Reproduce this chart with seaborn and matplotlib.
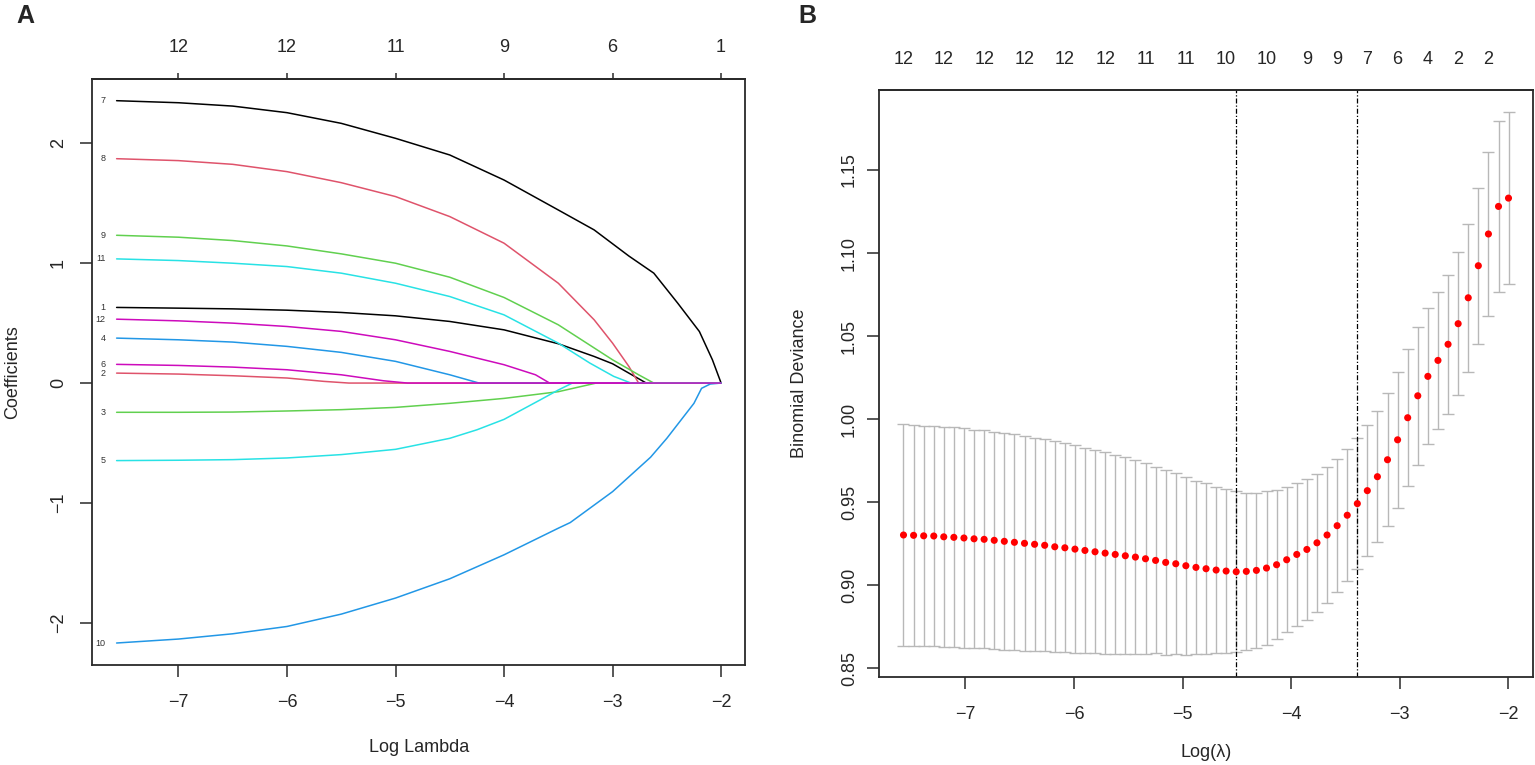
import numpy as np
import pandas as pd
import seaborn as sns
import matplotlib
matplotlib.use("Agg")
import matplotlib.pyplot as plt

# ---- painel A: caminhos dos coeficientes (Log Lambda -> coeficiente) ----
c1_x = [-7.57, -7.0, -6.5, -6.0, -5.5, -5.0, -4.5, -4.0, -3.5, -3.17, -3.0, -2.85, -2.69, -2.0]
c1_y = [0.631, 0.625, 0.619, 0.608, 0.589, 0.561, 0.514, 0.444, 0.328, 0.222, 0.161, 0.083, 0.0, 0.0]
c2_x = [-7.57, -7.0, -6.5, -6.0, -5.66, -5.43, -2.0]
c2_y = [0.083, 0.075, 0.061, 0.042, 0.014, 0.0, 0.0]
c3_x = [-7.57, -7.0, -6.5, -6.0, -5.5, -5.0, -4.5, -4.0, -3.5, -3.15, -2.0]
c3_y = [-0.244, -0.244, -0.242, -0.233, -0.222, -0.203, -0.169, -0.128, -0.072, 0.0, 0.0]
c4_x = [-7.57, -7.0, -6.5, -6.0, -5.5, -5.0, -4.5, -4.23, -2.0]
c4_y = [0.375, 0.361, 0.342, 0.306, 0.256, 0.181, 0.069, 0.0, 0.0]
c5_x = [-7.57, -7.0, -6.5, -6.0, -5.5, -5.0, -4.5, -4.25, -4.0, -3.67, -3.5, -3.37, -2.0]
c5_y = [-0.647, -0.644, -0.639, -0.625, -0.597, -0.553, -0.461, -0.39, -0.303, -0.142, -0.058, 0.0, 0.0]
c6_x = [-7.57, -7.0, -6.5, -6.0, -5.5, -5.11, -4.89, -2.0]
c6_y = [0.156, 0.147, 0.133, 0.111, 0.069, 0.019, 0.0, 0.0]
c7_x = [-7.57, -7.0, -6.5, -6.0, -5.5, -5.0, -4.5, -4.0, -3.5, -3.17, -2.85, -2.62,
        -2.4, -2.2, -2.08, -2.0]
c7_y = [2.356, 2.339, 2.311, 2.256, 2.167, 2.042, 1.903, 1.694, 1.444, 1.278, 1.06, 0.917,
        0.667, 0.43, 0.194, 0.0]
c8_x = [-7.57, -7.0, -6.5, -6.0, -5.5, -5.0, -4.5, -4.0, -3.5, -3.17, -3.0, -2.85, -2.76, -2.0]
c8_y = [1.872, 1.856, 1.825, 1.764, 1.672, 1.556, 1.389, 1.167, 0.833, 0.528, 0.333, 0.139, 0.0, 0.0]
c9_x = [-7.57, -7.0, -6.5, -6.0, -5.5, -5.0, -4.5, -4.0, -3.5, -3.0, -2.76, -2.62, -2.0]
c9_y = [1.233, 1.217, 1.189, 1.144, 1.078, 1.0, 0.883, 0.714, 0.486, 0.194, 0.069, 0.0, 0.0]
c10_x = [-7.57, -7.0, -6.5, -6.0, -5.5, -5.0, -4.5, -4.0, -3.5, -3.39, -3.0, -2.65, -2.5,
         -2.25, -2.18, -2.1, -2.0]
c10_y = [-2.169, -2.136, -2.092, -2.031, -1.928, -1.794, -1.633, -1.433, -1.211, -1.164, -0.906,
         -0.619, -0.461, -0.169, -0.044, -0.008, 0.0]
c11_x = [-7.57, -7.0, -6.5, -6.0, -5.5, -5.0, -4.5, -4.0, -3.5, -3.21, -2.99, -2.83, -2.0]
c11_y = [1.036, 1.022, 1.0, 0.972, 0.917, 0.833, 0.722, 0.569, 0.333, 0.167, 0.056, 0.0, 0.0]
c12_x = [-7.57, -7.0, -6.5, -6.0, -5.5, -5.0, -4.5, -4.0, -3.71, -3.58, -2.0]
c12_y = [0.533, 0.519, 0.5, 0.472, 0.431, 0.361, 0.264, 0.153, 0.069, 0.0, 0.0]

topo_A_pos = [-7, -6, -5, -4, -3, -2]
topo_A_lab = ["12", "12", "11", "9", "6", "1"]

# ---- painel B: validação cruzada ----
logl = [-7.571, -7.478, -7.385, -7.292, -7.200, -7.107, -7.014, -6.921, -6.828, -6.735,
        -6.642, -6.549, -6.456, -6.363, -6.270, -6.177, -6.084, -5.991, -5.899, -5.806,
        -5.713, -5.620, -5.527, -5.434, -5.341, -5.248, -5.155, -5.062, -4.969, -4.876,
        -4.783, -4.690, -4.598, -4.505, -4.412, -4.319, -4.226, -4.133, -4.040, -3.947,
        -3.854, -3.761, -3.668, -3.575, -3.482, -3.389, -3.297, -3.204, -3.111, -3.018,
        -2.925, -2.832, -2.739, -2.646, -2.553, -2.460, -2.367, -2.274, -2.181, -2.088,
        -1.996]
cvm = [0.9303, 0.9301, 0.9298, 0.9297, 0.9292, 0.9289, 0.9285, 0.9280, 0.9277, 0.9271,
       0.9265, 0.9259, 0.9253, 0.9247, 0.9241, 0.9232, 0.9226, 0.9218, 0.9210, 0.9202,
       0.9194, 0.9186, 0.9178, 0.9170, 0.9160, 0.9150, 0.9138, 0.9130, 0.9118, 0.9108,
       0.9100, 0.9092, 0.9086, 0.9082, 0.9084, 0.9090, 0.9104, 0.9124, 0.9154, 0.9186,
       0.9216, 0.9256, 0.9303, 0.9359, 0.9422, 0.9492, 0.9570, 0.9654, 0.9756, 0.9876,
       1.0009, 1.0141, 1.0258, 1.0354, 1.0451, 1.0575, 1.0731, 1.0924, 1.1115, 1.1281,
       1.1331]
cvsd = [0.0666, 0.0666, 0.0664, 0.0662, 0.0662, 0.0662, 0.0660, 0.0658, 0.0656, 0.0654,
        0.0652, 0.0650, 0.0646, 0.0642, 0.0638, 0.0634, 0.0628, 0.0624, 0.0618, 0.0612,
        0.0606, 0.0600, 0.0592, 0.0584, 0.0574, 0.0560, 0.0556, 0.0544, 0.0536, 0.0522,
        0.0514, 0.0502, 0.0492, 0.0484, 0.0474, 0.0468, 0.0462, 0.0450, 0.0435, 0.0431,
        0.0423, 0.0417, 0.0411, 0.0401, 0.0396, 0.0394, 0.0394, 0.0396, 0.0401, 0.0410,
        0.0412, 0.0414, 0.0410, 0.0412, 0.0419, 0.0429, 0.0446, 0.0470, 0.0494, 0.0515,
        0.0516]
idx_1se = 45
topo_B_idx = [0, 4, 8, 12, 16, 20, 24, 28, 32, 36, 40, 43, 46, 49, 52, 55, 58]
topo_B_lab = ["12", "12", "12", "12", "12", "12", "11", "11", "10", "10", "9", "9",
              "7", "6", "4", "2", "2"]

sns.set_style("white")
plt.rcParams['font.family'] = ['Liberation Sans', 'DejaVu Sans']
plt.rcParams['axes.unicode_minus'] = True

W, H = 1535, 765
fig = plt.figure(figsize=(W / 100, H / 100), dpi=100)


def eixo(l, t, r, b):
    return fig.add_axes([l / W, 1 - b / H, (r - l) / W, (b - t) / H])


axA = eixo(92.3, 79, 745.3, 664.7)
axB = eixo(879.3, 90.3, 1532.7, 676.7)

cor_frame = "#2a2a2a"
for ax in (axA, axB):
    for s in ax.spines.values():
        s.set_linewidth(1.3)
        s.set_color(cor_frame)
    ax.tick_params(direction="out", length=8.3, width=1.1, color=cor_frame,
                   labelsize=13, bottom=True, left=True)

# ---- A ----
caminhos = {
    "1": (c1_x, c1_y), "2": (c2_x, c2_y), "3": (c3_x, c3_y), "4": (c4_x, c4_y),
    "5": (c5_x, c5_y), "6": (c6_x, c6_y), "7": (c7_x, c7_y), "8": (c8_x, c8_y),
    "9": (c9_x, c9_y), "10": (c10_x, c10_y), "11": (c11_x, c11_y), "12": (c12_x, c12_y),
}
linhas = []
for v, (xs, ys) in caminhos.items():
    for x, y in zip(xs, ys):
        linhas.append((v, x, y))
dfA = pd.DataFrame(linhas, columns=["var", "logl", "coef"])

base = ["black", "#DF536B", "#61D04F", "#2297E6", "#28E2E5", "#CD0BBC"]
ordem = list(caminhos.keys())
cores = {v: base[i % 6] for i, v in enumerate(ordem)}

sns.lineplot(data=dfA, x="logl", y="coef", hue="var", hue_order=ordem, palette=cores,
             estimator=None, legend=False, linewidth=1.1, ax=axA)

for v, (xs, ys) in caminhos.items():
    axA.annotate(v, (xs[0], ys[0]), xytext=(-8, 0), textcoords="offset points",
                 ha="right", va="center", fontsize=6.5, color="#333333")

axA.set_xlim(-7.794, -1.777)
axA.set_ylim(-2.35, 2.537)
axA.set_xticks([-7, -6, -5, -4, -3, -2])
axA.set_yticks([-2, -1, 0, 1, 2])
axA.tick_params(axis="x", pad=12.5)
axA.tick_params(axis="y", pad=10, labelrotation=90)
for lab in axA.get_yticklabels():
    lab.set_va("center")
axA.set_xlabel("")
axA.set_ylabel("")

secA = axA.secondary_xaxis("top")
secA.set_xticks(topo_A_pos)
secA.set_xticklabels(topo_A_lab)
secA.tick_params(length=4.5, width=1.1, color=cor_frame, pad=12, labelsize=13)
for s in secA.spines.values():
    s.set_linewidth(1.3)
    s.set_color(cor_frame)

# ---- B ----
axB.errorbar(logl, cvm, yerr=cvsd, fmt="none", ecolor="#B8B8B8", elinewidth=1.0,
             capsize=4.3, capthick=1.0, zorder=1)
sns.scatterplot(x=logl, y=cvm, color="red", s=26, edgecolor="none", ax=axB, zorder=3)

i_min = int(np.argmin(cvm))
for xv in (logl[i_min], logl[idx_1se]):
    axB.axvline(xv, color="black", linewidth=0.9, dashes=(4, 1.6, 1, 1.6), zorder=2)

axB.set_xlim(-7.794, -1.773)
axB.set_ylim(0.845, 1.198)
axB.set_xticks([-7, -6, -5, -4, -3, -2])
yt = [0.85, 0.90, 0.95, 1.00, 1.05, 1.10, 1.15]
axB.set_yticks(yt)
axB.set_yticklabels([f"{v:.2f}" for v in yt])
axB.tick_params(axis="x", pad=12.5)
axB.tick_params(axis="y", pad=7, labelrotation=90)
for lab in axB.get_yticklabels():
    lab.set_va("center")

secB = axB.secondary_xaxis("top")
secB.set_xticks([logl[i] for i in topo_B_idx])
secB.set_xticklabels(topo_B_lab)
secB.tick_params(length=0, pad=16, labelsize=13)
for s in secB.spines.values():
    s.set_linewidth(1.3)
    s.set_color(cor_frame)

# ---- títulos e letras ----
fig.text(418.8 / W, 1 - 752 / H, "Log Lambda", ha="center", va="baseline", fontsize=13)
fig.text(13 / W, 1 - 372 / H, "Coefficients", ha="center", va="center", rotation=90, fontsize=13)
fig.text(1206 / W, 1 - 757 / H, "Log(\u03bb)", ha="center", va="baseline", fontsize=13)
fig.text(800 / W, 1 - 383.5 / H, "Binomial Deviance", ha="center", va="center", rotation=90,
         fontsize=13)
fig.text(25 / W, 1 - 16 / H, "A", ha="center", va="center", fontsize=18, fontweight="bold")
fig.text(807 / W, 1 - 16 / H, "B", ha="center", va="center", fontsize=18, fontweight="bold")

fig.savefig("out.png", dpi=100)
